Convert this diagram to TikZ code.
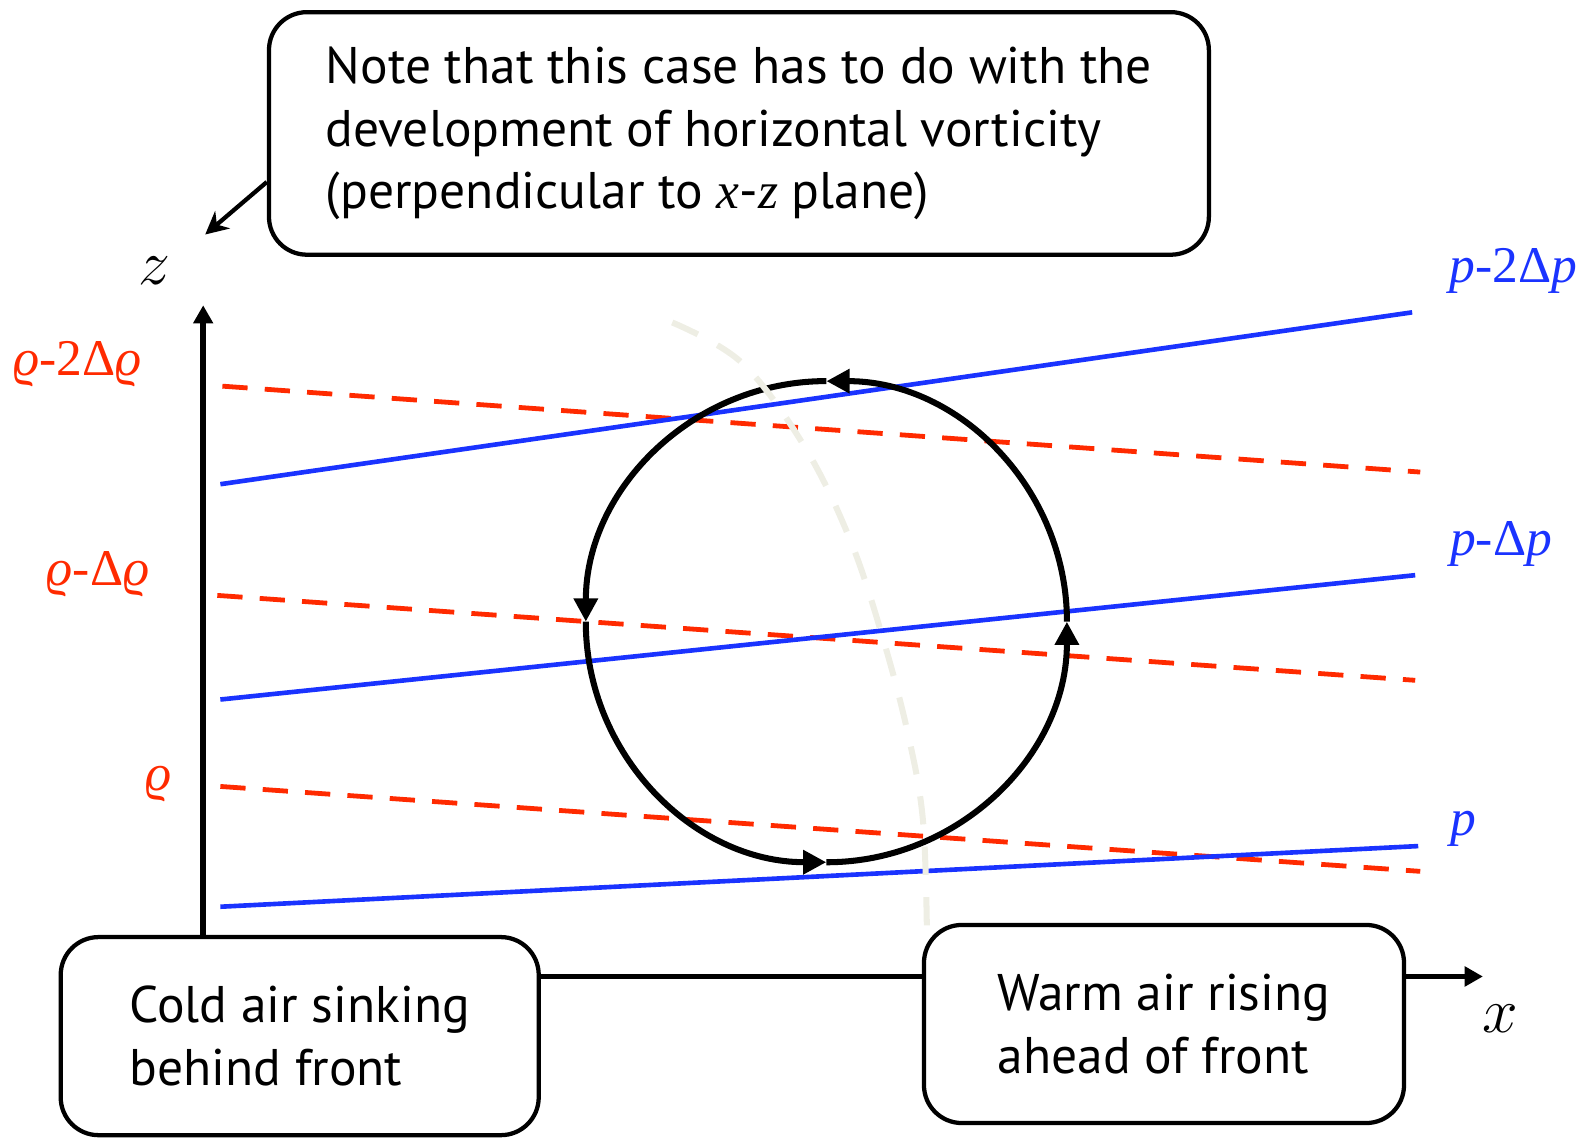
\RequirePackage{fix-cm}
\documentclass[tikz,border=0pt]{standalone}
\usepackage{fontspec}
\newfontfamily\boxfont{PT Sans}
\newfontfamily\labfont{Liberation Serif}
\usetikzlibrary{arrows.meta,positioning,calc}
\tikzset{>=Stealth}
\definecolor{barblue}{RGB}{26,51,255}
\definecolor{pycred}{RGB}{255,42,0}
\definecolor{frontgray}{RGB}{238,238,228}

\begin{document}
\begin{tikzpicture}[
    x=0.02cm, y=-0.02cm,
    notebox/.style={draw, line width=2.4pt, rounded corners=0.75cm, fill=white, align=left, font=\boxfont\fontsize{29}{35.3}\selectfont},
    axisline/.style={line width=3.2pt, -{Triangle[length=0.36cm,width=0.38cm]}},
    barline/.style={draw=barblue, line width=2.6pt},
    pycline/.style={draw=pycred, line width=2.7pt, dash pattern=on 0.5cm off 0.34cm},
    vortex/.style={line width=3.4pt, -{Triangle[length=0.46cm,width=0.46cm]}},
    frontline/.style={draw=frontgray, line width=3.4pt, dash pattern=on 0.56cm off 0.44cm},
    barlabel/.style={text=barblue, font=\labfont\fontsize{29}{30}\selectfont},
    pyclabel/.style={text=pycred, font=\labfont\fontsize{29}{30}\selectfont},
    axislabel/.style={font=\fontsize{36}{38}\selectfont}
  ]
    \useasboundingbox (0,0) rectangle (1568,1126);

    % axes
    \coordinate (orig) at (201,966);
    \coordinate (ztip) at (201,302);
    \coordinate (xtip) at (1467,966);
    \draw[axisline] (orig) -- (ztip);
    \draw[axisline] (orig) -- (xtip);
    \node[axislabel] (zlab) at (153,268) {$z$};
    \node[axislabel] (xlab) at (1484,1008) {$x$};

    % isopycnals (dashed)
    \coordinate (r2w) at (220,382); \coordinate (r2e) at (1405,467);
    \coordinate (r1w) at (215,589); \coordinate (r1e) at (1400,673);
    \coordinate (r0w) at (218,778); \coordinate (r0e) at (1405,862);
    \draw[pycline] (r2w) -- (r2e);
    \draw[pycline] (r1w) -- (r1e);
    \draw[pycline] (r0w) -- (r0e);
    \node[pyclabel] (rho2) at (77,360) {\itshape ϱ\upshape-2Δ\itshape ϱ};
    \node[pyclabel] (rho1) at (97,568) {\itshape ϱ\upshape-Δ\itshape ϱ};
    \node[pyclabel] (rho0) at (157,776) {\itshape ϱ};

    % isobars
    \coordinate (b2w) at (218,479); \coordinate (b2e) at (1397,309);
    \coordinate (b1w) at (218,692); \coordinate (b1e) at (1400,569);
    \coordinate (b0w) at (218,897); \coordinate (b0e) at (1403,837);
    \draw[barline] (b2w) -- (b2e);
    \draw[barline] (b1w) -- (b1e);
    \draw[barline] (b0w) -- (b0e);
    \node[barlabel] (p2) at (1497,268) {\itshape p\upshape-2Δ\itshape p};
    \node[barlabel] (p1) at (1485,538) {\itshape p\upshape-Δ\itshape p};
    \node[barlabel] (p0) at (1448,820) {\itshape p};

    % circulation
    \coordinate (ctr) at (817.5,615);
    \draw[vortex] ($(ctr)+(238,0)$) arc[start angle=0, end angle=90, radius=4.76cm];
    \draw[vortex] ($(ctr)+(0,-238)$) arc[start angle=90, end angle=180, radius=4.76cm];
    \draw[vortex] ($(ctr)+(-238,0)$) arc[start angle=180, end angle=270, radius=4.76cm];
    \draw[vortex] ($(ctr)+(0,238)$) arc[start angle=270, end angle=360, radius=4.76cm];

    % front
    \draw[frontline] plot[smooth, tension=0.6] coordinates {(665,319) (734,359) (796,442) (841,534) (873,630) (898,725) (913,811) (917,925)};

    % boxes
    \node[notebox, minimum width=18.6cm, minimum height=4.8cm] (note) at (731,132)
      {Note that this case has to do with the\\development of horizontal vorticity\\(perpendicular to {\labfont\itshape x}-{\labfont\itshape z} plane)};
    \node[notebox, minimum width=9.46cm, minimum height=3.92cm] (cold) at (296.5,1025)
      {Cold air sinking\\behind front};
    \node[notebox, minimum width=9.5cm, minimum height=3.92cm] (warm) at (1151.5,1013)
      {Warm air rising\\ahead of front};
    \coordinate (vort) at (203,232);
    \draw[line width=2.4pt, -{Stealth[length=0.45cm,width=0.45cm]}] (note.west) ++(0,48) -- (vort);
  \end{tikzpicture}
\end{document}
